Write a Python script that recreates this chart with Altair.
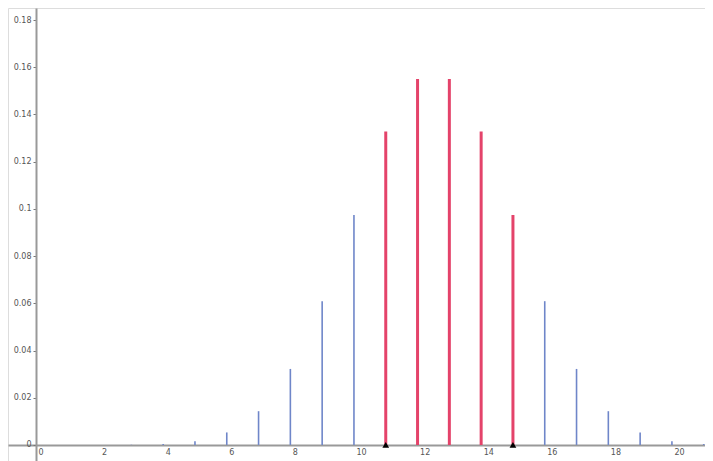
import altair as alt
import pandas as pd

# values
k_values = list(range(0, 22))
probs = [0.0000, 0.0000, 0.0000, 0.0001, 0.0004, 0.0016, 0.0053, 0.0143,
         0.0322, 0.0609, 0.0974, 0.1328, 0.1550, 0.1550, 0.1328, 0.0974,
         0.0609, 0.0322, 0.0143, 0.0053, 0.0016, 0.0004]
red_range = [11, 15]
marker_x = [11, 15]

x_ticks = list(range(0, 21, 2))
y_ticks = [0, 0.02, 0.04, 0.06, 0.08, 0.1, 0.12, 0.14, 0.16, 0.18]

df = pd.DataFrame({"k": k_values, "p": probs})
df["grp"] = ["red" if red_range[0] <= k <= red_range[1] else "blue" for k in k_values]
markers = pd.DataFrame({"k": marker_x, "p": [0.0] * len(marker_x)})

xs = alt.Scale(domain=[-0.88, 21.04], nice=False, zero=False)
ys = alt.Scale(domain=[-0.0068, 0.1851], nice=False, zero=False)

x_axis = alt.Axis(values=x_ticks, orient="bottom", offset=-16, title=None,
                  labelAlign="left", labelOffset=2, labelPadding=3, labelFontSize=8,
                  labelColor="#555", labelFont="DejaVu Sans", grid=False,
                  domainColor="#999", domainWidth=2, ticks=False)
y_axis = alt.Axis(values=y_ticks, orient="left", offset=-28, title=None,
                  labelFontSize=8, labelColor="#555", labelFont="DejaVu Sans",
                  grid=False, domainColor="#999", domainWidth=2,
                  tickColor="#777", tickSize=3, labelPadding=2,
                  labelExpr="datum.value == 0 ? '0' : format(datum.value, '.2~f')")

base = alt.Chart(df)

blue = base.transform_filter(alt.datum.grp == "blue").mark_rule(
    color="#6f86c9", strokeWidth=1.6
).encode(
    x=alt.X("k:Q", scale=xs, axis=x_axis),
    y=alt.Y("p:Q", scale=ys, axis=y_axis),
    y2=alt.Y2(datum=0),
)

red = base.transform_filter(alt.datum.grp == "red").mark_rule(
    color="#e4436a", strokeWidth=3
).encode(
    x=alt.X("k:Q", scale=xs),
    y=alt.Y("p:Q", scale=ys),
    y2=alt.Y2(datum=0),
)

tri = alt.Chart(markers).mark_point(
    shape="triangle-up", filled=True, color="black", size=45, opacity=1
).encode(
    x=alt.X("k:Q", scale=xs),
    y=alt.Y("p:Q", scale=ys),
)

chart = alt.layer(blue, red, tri).properties(
    width=697, height=453, padding=0, autosize=alt.AutoSizeParams(type="none")
).configure_view(stroke=None).configure(background="white")

chart.save("out.html", embed_options={"renderer": "svg", "actions": False})
